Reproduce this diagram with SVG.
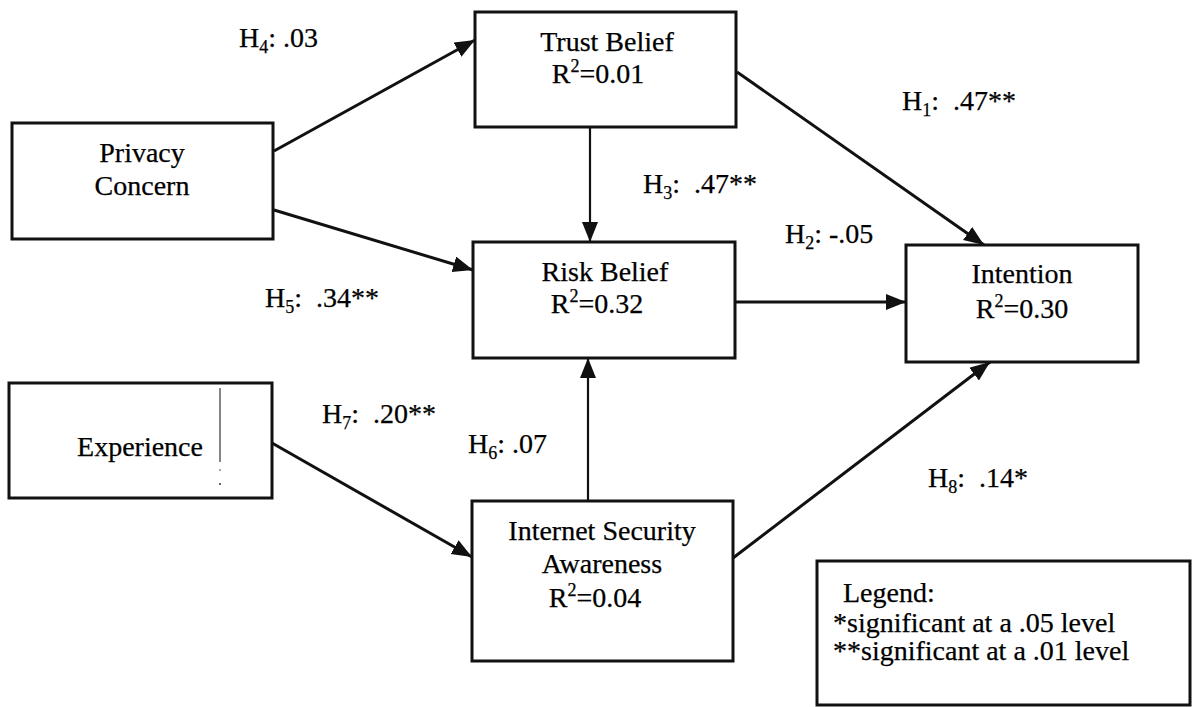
<svg xmlns="http://www.w3.org/2000/svg" width="1193" height="707" viewBox="0 0 1193 707">
<style>
  .box { fill: #fff; stroke: #111; stroke-width: 3; }
  .t { font-family: "Liberation Serif", "Times New Roman", serif; font-size: 28px; fill: #000; stroke: #000; stroke-width: 0.25; }
  .c { text-anchor: middle; }
  .pre { white-space: pre; }
  .edge { fill: none; stroke: #111; stroke-width: 3; }
  .thin { stroke-width: 2.2; }
</style>
<defs>
  <marker id="arr" markerUnits="userSpaceOnUse" markerWidth="22" markerHeight="18" refX="20" refY="8" orient="auto">
    <path d="M0,0 L20,8 L0,16 z" fill="#111"/>
  </marker>
</defs>
<rect width="1193" height="707" fill="#fff"/>

<g id="connectors">
  <path class="edge" d="M274,151 L475,40" marker-end="url(#arr)"/>
  <path class="edge" d="M274,210 L473,270" marker-end="url(#arr)"/>
  <path class="edge thin" d="M590,127 L590,242" marker-end="url(#arr)"/>
  <path class="edge" d="M737,72 L984,245" marker-end="url(#arr)"/>
  <path class="edge" d="M735,302 L906,302" marker-end="url(#arr)"/>
  <path class="edge thin" d="M588,501 L588,358" marker-end="url(#arr)"/>
  <path class="edge" d="M733,558 L990,362" marker-end="url(#arr)"/>
  <path class="edge" d="M272,443 L472,557" marker-end="url(#arr)"/>
</g>

<g id="privacy-concern">
  <rect class="box" x="12" y="123" width="261" height="116"/>
  <text class="t c" x="142" y="162">Privacy</text>
  <text class="t c" x="142" y="195">Concern</text>
</g>

<g id="trust-belief">
  <rect class="box" x="475" y="12" width="261" height="115"/>
  <text class="t c" x="607" y="51">Trust Belief</text>
  <text class="t c" x="598" y="83">R<tspan font-size="18" dy="-11">2</tspan><tspan dy="11">=0.01</tspan></text>
</g>

<g id="risk-belief">
  <rect class="box" x="473" y="242" width="262" height="116"/>
  <text class="t c" x="605" y="281">Risk Belief</text>
  <text class="t c" x="597" y="313">R<tspan font-size="18" dy="-11">2</tspan><tspan dy="11">=0.32</tspan></text>
</g>

<g id="intention">
  <rect class="box" x="906" y="245" width="232" height="117"/>
  <text class="t c" x="1022" y="283">Intention</text>
  <text class="t c" x="1022" y="318">R<tspan font-size="18" dy="-11">2</tspan><tspan dy="11">=0.30</tspan></text>
</g>

<g id="experience">
  <rect class="box" x="9" y="383" width="263" height="115"/>
  <text class="t c" x="140" y="456">Experience</text>
  <line x1="220" y1="388" x2="220" y2="462" stroke="#333" stroke-width="1.2"/>
  <circle cx="220" cy="470" r="0.8" fill="#333"/>
  <circle cx="220" cy="484" r="1" fill="#333"/>
</g>

<g id="internet-security-awareness">
  <rect class="box" x="472" y="501" width="261" height="160"/>
  <text class="t c" x="602" y="540">Internet Security</text>
  <text class="t c" x="602" y="573">Awareness</text>
  <text class="t c" x="595" y="607">R<tspan font-size="18" dy="-11">2</tspan><tspan dy="11">=0.04</tspan></text>
</g>

<g id="legend">
  <rect class="box" x="817" y="561" width="373" height="144"/>
  <text class="t" x="843" y="602">Legend:</text>
  <text class="t" x="833" y="632">*significant at a .05 level</text>
  <text class="t" x="833" y="660">**significant at a .01 level</text>
</g>

<g id="labels">
  <text class="t pre" x="239" y="47">H<tspan font-size="18" dy="6">4</tspan><tspan dy="-6">: .03</tspan></text>
  <text class="t pre" x="265" y="307">H<tspan font-size="18" dy="6">5</tspan><tspan dy="-6">:  .34**</tspan></text>
  <text class="t pre" x="643" y="193">H<tspan font-size="18" dy="6">3</tspan><tspan dy="-6">:  .47**</tspan></text>
  <text class="t pre" x="785" y="243">H<tspan font-size="18" dy="6">2</tspan><tspan dy="-6">: -.05</tspan></text>
  <text class="t pre" x="902" y="110">H<tspan font-size="18" dy="6">1</tspan><tspan dy="-6">:  .47**</tspan></text>
  <text class="t pre" x="322" y="423">H<tspan font-size="18" dy="6">7</tspan><tspan dy="-6">:  .20**</tspan></text>
  <text class="t pre" x="468" y="453">H<tspan font-size="18" dy="6">6</tspan><tspan dy="-6">: .07</tspan></text>
  <text class="t pre" x="928" y="487">H<tspan font-size="18" dy="6">8</tspan><tspan dy="-6">:  .14*</tspan></text>
</g>
</svg>
